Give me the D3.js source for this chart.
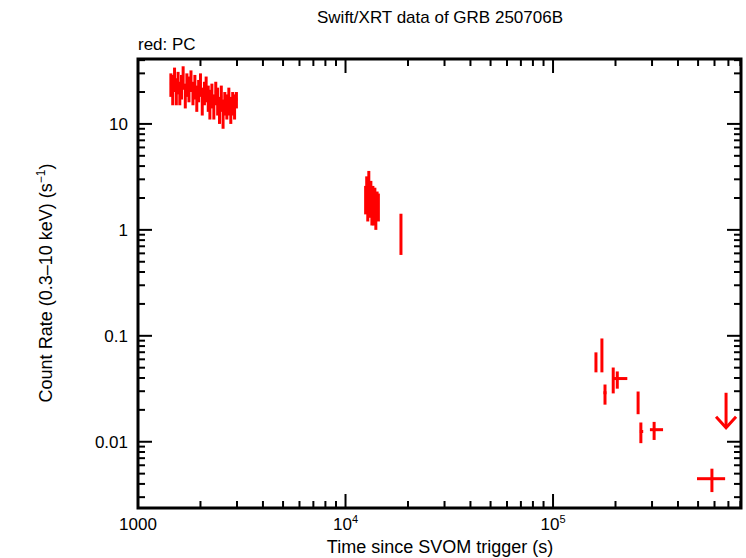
<!DOCTYPE html>
<html><head><meta charset="utf-8">
<script src="https://cdn.jsdelivr.net/npm/d3@7"></script>
<style>body{margin:0;background:#fff}text{font-family:"Liberation Sans",Arial,sans-serif}</style>
</head><body><svg width="746" height="558"></svg>
<script>
// early PC cluster: time (s), rate, rate error
const earlyT = [1440,1470,1500,1530,1560,1590,1620,1650,1690,1720,1760,1800,1840,1880,1920,1960,2000,2040,2090,2130,2180,2220,2270,2320,2370,2420,2470,2520,2570,2620,2680,2740,2800,2860,2920,2980];
const earlyR = [24,22,27,21,25,20,23,28,19,24,22,26,20,23,18,21,24,17,20,22,18,16,19,15,20,17,14,18,13,16,15,17,14,16,15,17];
const earlyE = [6,7,7,6,6,5,6,7,5,6,6,6,5,6,5,5,6,5,5,6,5,5,5,4,5,5,4,5,4,4,4,5,4,4,4,3];
// second cluster
const midT = [12500,12650,12800,12950,13100,13250,13400,13550,13700,13850,14000,14200,14400,18500];
const midR = [2.0,2.4,1.7,2.7,1.9,2.2,1.5,2.0,1.6,1.9,1.4,1.8,1.7,1.0];
const midE = [0.6,0.8,0.5,0.9,0.6,0.7,0.4,0.6,0.5,0.6,0.4,0.5,0.5,0.42];
// late points: time, tLow, tHigh, rate, rLow, rHigh
const lateT  = [161000,172000,178000,195000,204000,257000,265000,307000,583000];
const lateTL = [160000,171000,175000,194000,195000,256000,262000,293000,494000];
const lateTH = [162000,173000,181000,196000,228000,258000,272000,339000,675000];
const lateR  = [0.056,0.065,0.029,0.038,0.0395,0.023,0.0125,0.013,0.00448];
const lateRL = [0.0452,0.0452,0.0224,0.0286,0.0317,0.0182,0.0097,0.0104,0.00335];
const lateRH = [0.0698,0.0944,0.0347,0.0502,0.0461,0.0298,0.0152,0.0154,0.00557];
// upper limit
const ulT = 682000, ulR = 0.029;

const xTicks = [1000,1e4,1e5];
const yTicks = [0.01,0.1,1,10];

const svg = d3.select("svg");
const L=138,R=741,T=59,B=508;
const x = d3.scaleLog().domain([1000,8.05e5]).range([L,R]);
const y = d3.scaleLog().domain([0.00237,41]).range([B,T]);
const red="#ff0000";

// minor / major ticks
function minors(dom){const out=[];for(let e=-4;e<7;e++)for(let m=1;m<10;m++){const v=m*Math.pow(10,e);if(v>=dom[0]&&v<=dom[1])out.push({v,major:m===1});}return out;}
const g=svg.append("g").attr("stroke","#000").attr("stroke-width",2);
minors(x.domain()).forEach(d=>{const px=x(d.v),len=d.major?14:7;
  g.append("line").attr("x1",px).attr("x2",px).attr("y1",B).attr("y2",B-len);
  g.append("line").attr("x1",px).attr("x2",px).attr("y1",T).attr("y2",T+len);});
minors(y.domain()).forEach(d=>{const py=y(d.v),len=d.major?14:7;
  g.append("line").attr("y1",py).attr("y2",py).attr("x1",L).attr("x2",L+len);
  g.append("line").attr("y1",py).attr("y2",py).attr("x1",R).attr("x2",R-len);});
svg.append("rect").attr("x",L).attr("y",T).attr("width",R-L).attr("height",B-T)
  .attr("fill","none").attr("stroke","#000").attr("stroke-width",3);

// tick labels
xTicks.forEach(v=>{const t=svg.append("text").attr("x",x(v)).attr("y",B+22).attr("text-anchor","middle").attr("font-size",17);
  if(v===1000)t.text("1000");else{t.append("tspan").text("10");t.append("tspan").attr("dy",-7).attr("font-size",11).text(Math.round(Math.log10(v)));}});
yTicks.forEach(v=>svg.append("text").attr("x",L-10).attr("y",y(v)+6).attr("text-anchor","end").attr("font-size",17).text(v));

svg.append("text").attr("x",440).attr("y",23).attr("text-anchor","middle").attr("font-size",17).text("Swift/XRT data of GRB 250706B");
svg.append("text").attr("x",138).attr("y",50).attr("font-size",17).text("red: PC");
svg.append("text").attr("x",440).attr("y",553).attr("text-anchor","middle").attr("font-size",18).text("Time since SVOM trigger (s)");
const yl=svg.append("text").attr("transform","translate(52,283) rotate(-90)").attr("text-anchor","middle").attr("font-size",18);
yl.append("tspan").text("Count Rate (0.3\u201310 keV) (s");
yl.append("tspan").attr("dy",-7).attr("font-size",12).text("\u22121");
yl.append("tspan").attr("dy",7).text(")");

const d=svg.append("g").attr("stroke",red).attr("stroke-width",3);
earlyT.forEach((t,i)=>{
  d.append("line").attr("x1",x(t)).attr("x2",x(t)).attr("y1",y(earlyR[i]-earlyE[i])).attr("y2",y(earlyR[i]+earlyE[i]));
  d.append("line").attr("x1",x(t*0.99)).attr("x2",x(t*1.01)).attr("y1",y(earlyR[i])).attr("y2",y(earlyR[i]));
});
midT.forEach((t,i)=>{
  d.append("line").attr("x1",x(t)).attr("x2",x(t)).attr("y1",y(midR[i]-midE[i])).attr("y2",y(midR[i]+midE[i]));
});
lateT.forEach((t,i)=>{
  d.append("line").attr("x1",x(t)).attr("x2",x(t)).attr("y1",y(lateRL[i])).attr("y2",y(lateRH[i]));
  d.append("line").attr("x1",x(lateTL[i])).attr("x2",x(lateTH[i])).attr("y1",y(lateR[i])).attr("y2",y(lateR[i]));
});
// upper limit arrow
const ax=x(ulT),ay=y(ulR),ab=ay+35;
d.append("line").attr("x1",ax).attr("x2",ax).attr("y1",ay).attr("y2",ab);
d.append("path").attr("fill","none").attr("d",`M${ax-10},${ab-11}L${ax},${ab}L${ax+10},${ab-11}`);
</script></body></html>
